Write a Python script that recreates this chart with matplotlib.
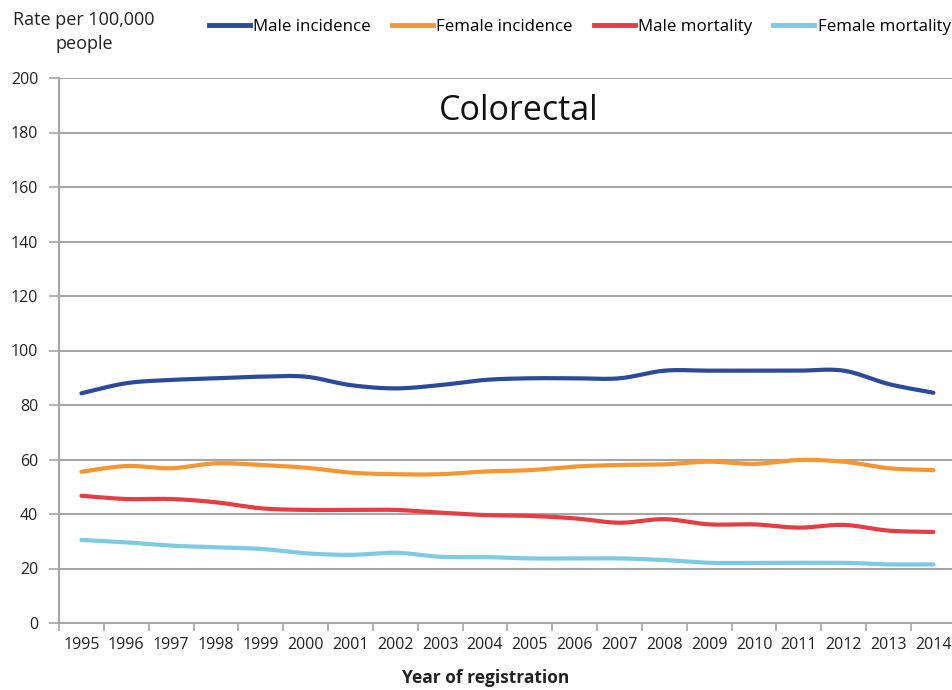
import numpy as np
import matplotlib
matplotlib.use("Agg")
import matplotlib.pyplot as plt
from matplotlib.lines import Line2D

years = [str(y) for y in range(1995, 2015)]
male_incidence = [84.3, 88.0, 89.2, 89.8, 90.4, 90.4, 87.3, 86.1, 87.3, 89.2,
                  89.8, 89.8, 89.8, 92.6, 92.6, 92.6, 92.6, 92.6, 87.7, 84.5]
female_incidence = [55.5, 57.6, 56.8, 58.6, 58.0, 57.0, 55.2, 54.6, 54.6, 55.6,
                    56.1, 57.4, 58.0, 58.2, 59.2, 58.4, 59.8, 59.2, 56.8, 56.1]
male_mortality = [46.7, 45.5, 45.5, 44.3, 42.1, 41.5, 41.5, 41.5, 40.5, 39.6,
                  39.3, 38.4, 36.8, 38.1, 36.2, 36.2, 35.0, 36.0, 33.9, 33.4]
female_mortality = [30.5, 29.6, 28.4, 27.8, 27.2, 25.6, 25.0, 25.8, 24.3, 24.2,
                    23.7, 23.7, 23.7, 23.1, 22.1, 22.1, 22.1, 22.1, 21.5, 21.5]

series_names = ["Male incidence", "Female incidence", "Male mortality", "Female mortality"]
series_values = [male_incidence, female_incidence, male_mortality, female_mortality]
series_colors = ["#2B4A9A", "#F7962F", "#E63C44", "#7DCAE3"]

y_ticks = list(range(0, 201, 20))

plt.rcParams["font.family"] = ["Open Sans", "DejaVu Sans"]


def smooth(x, y, n=24):
    """Catmull-Rom style cubic Bezier smoothing through every data point."""
    x = np.asarray(x, float)
    y = np.asarray(y, float)
    px = np.concatenate([[x[0]], x, [x[-1]]])
    py = np.concatenate([[y[0]], y, [y[-1]]])
    xs, ys = [], []
    t = np.linspace(0, 1, n)
    for i in range(1, len(px) - 2):
        p0 = np.array([px[i], py[i]])
        p3 = np.array([px[i + 1], py[i + 1]])
        p1 = p0 + (np.array([px[i + 1], py[i + 1]]) - np.array([px[i - 1], py[i - 1]])) / 6
        p2 = p3 - (np.array([px[i + 2], py[i + 2]]) - np.array([px[i], py[i]])) / 6
        b = ((1 - t) ** 3)[:, None] * p0 + (3 * (1 - t) ** 2 * t)[:, None] * p1 \
            + (3 * (1 - t) * t ** 2)[:, None] * p2 + (t ** 3)[:, None] * p3
        xs.extend(b[:, 0])
        ys.extend(b[:, 1])
    return np.array(xs), np.array(ys)


fig = plt.figure(figsize=(9.53, 6.9), dpi=100)
W, H = 953, 690
left, bottom = 59, 690 - 623
ax = fig.add_axes([left / W, bottom / H, 896.8 / W, 545 / H])

x = np.arange(len(years))
for vals, col in zip(series_values, series_colors):
    sx, sy = smooth(x, vals)
    ax.plot(sx, sy, color=col, lw=3.0, solid_capstyle="round", zorder=3)

ax.set_xlim(-0.5, len(years) - 0.5)
ax.set_ylim(0, 200)
ax.set_yticks(y_ticks)
ax.set_yticklabels([str(v) for v in y_ticks], fontsize=11.5, color="#222222")
ax.yaxis.grid(True, color="#A6A6A6", lw=1.5, zorder=0)
ax.set_axisbelow(True)

ax.set_xticks(x)
ax.set_xticklabels(years, fontsize=11.5, color="#222222")
ax.set_xticks(np.arange(-0.5, len(years), 1.0), minor=True)
ax.tick_params(axis="x", which="major", length=0, pad=10)
ax.tick_params(axis="x", which="minor", length=6, color="#A6A6A6", width=1.2)
ax.tick_params(axis="y", length=7, color="#A6A6A6", width=1.2, pad=8)

for s in ["top", "right"]:
    ax.spines[s].set_visible(False)
for s in ["left", "bottom"]:
    ax.spines[s].set_color("#A6A6A6")
    ax.spines[s].set_linewidth(1.5)

ax.text(0.513, 0.940, "Colorectal", transform=ax.transAxes, ha="center", va="center",
        fontsize=24.5, color="#111111")

fig.text(84 / W, 1 - 32 / H, "Rate per 100,000\npeople", ha="center", va="center",
         fontsize=13, color="#222222", linespacing=1.45)

fig.text(486 / W, 1 - 678 / H, "Year of registration", ha="center", va="center",
         fontsize=12.5, fontweight="bold", color="#222222")

handles = [Line2D([0], [0], color=c, lw=3.5) for c in series_colors]
fig.legend(handles, series_names, ncol=4, loc="center",
           bbox_to_anchor=(580 / W, 1 - 27 / H), frameon=False, fontsize=12.2,
           handlelength=2.4, handletextpad=0.2, columnspacing=1.25)

fig.savefig("out.png", dpi=100, facecolor="white")
